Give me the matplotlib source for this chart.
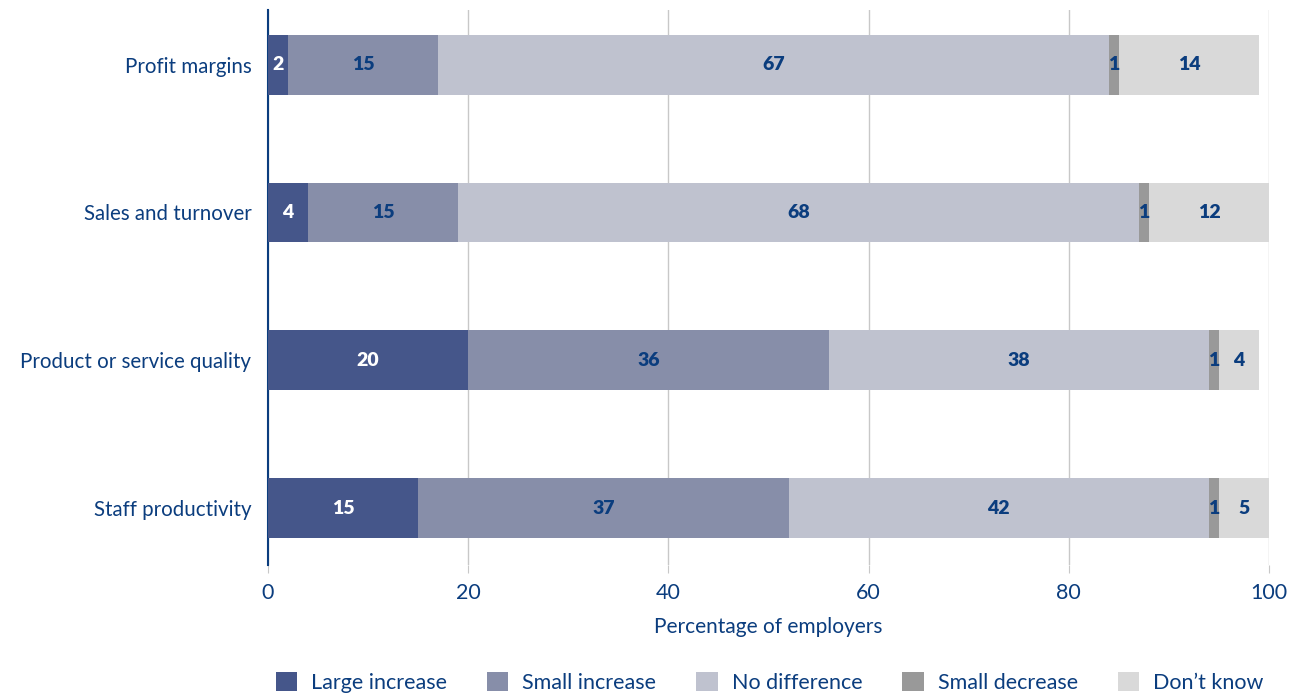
import numpy as np
import matplotlib
matplotlib.use('Agg')
import matplotlib.pyplot as plt

# Datos de la encuesta (porcentaje de empleadores)
categorias = ['Profit margins', 'Sales and turnover', 'Product or service quality', 'Staff productivity']
series = ['Large increase', 'Small increase', 'No difference', 'Small decrease', "Don\u2019t know"]
large_increase = [2, 4, 20, 15]
small_increase = [15, 15, 36, 37]
no_difference = [67, 68, 38, 42]
small_decrease = [1, 1, 1, 1]
dont_know = [14, 12, 4, 5]
ticks_x = [0, 20, 40, 60, 80, 100]

colores = ['#45568a', '#878ea9', '#bfc2cf', '#999999', '#d9d9d9']
color_texto = '#0b3d7e'

plt.rcParams['font.family'] = ['Lato', 'DejaVu Sans']

fig = plt.figure(figsize=(13, 6.97), dpi=100)
ax = fig.add_axes([0.2062, 0.1894, 0.7700, 0.7963])

valores = [large_increase, small_increase, no_difference, small_decrease, dont_know]
y = np.arange(len(categorias))
izq = np.zeros(len(categorias))
for i, (serie, vals) in enumerate(zip(series, valores)):
    vals = np.array(vals, dtype=float)
    ax.barh(y, vals, left=izq, height=0.405, color=colores[i], label=serie, zorder=3)
    col_lbl = 'white' if i == 0 else color_texto
    for yy, l, v in zip(y, izq, vals):
        ax.text(l + v / 2, yy, f'{v:.0f}', ha='center', va='center',
                color=col_lbl, fontsize=14, fontweight='heavy', zorder=4)
    izq += vals

ax.set_ylim(3.385, -0.37)
ax.set_xlim(0, 100)
ax.set_yticks(y)
ax.set_yticklabels(categorias, fontsize=14.8, color=color_texto)
ax.set_xticks(ticks_x)
ax.set_xticklabels([str(t) for t in ticks_x], fontsize=15.5, color=color_texto)
ax.tick_params(axis='y', length=0, pad=12)
ax.tick_params(axis='x', length=6, color='#c8c8c8', pad=7)
ax.grid(axis='x', color='#c8c8c8', linewidth=1, zorder=0)
for s in ['top', 'right', 'bottom']:
    ax.spines[s].set_visible(False)
ax.spines['left'].set_color('#0b3d7e')
ax.spines['left'].set_linewidth(1.5)
ax.set_xlabel('Percentage of employers', fontsize=15, color=color_texto, labelpad=10)

handles, labels = ax.get_legend_handles_labels()
fig.legend(handles, labels, loc='lower center', ncol=5, frameon=False,
           bbox_to_anchor=(0.592, -0.022), fontsize=15.5, labelcolor=color_texto,
           handlelength=1.0, handleheight=1.0, columnspacing=1.85, handletextpad=0.65)

fig.savefig('out.png', dpi=100)
